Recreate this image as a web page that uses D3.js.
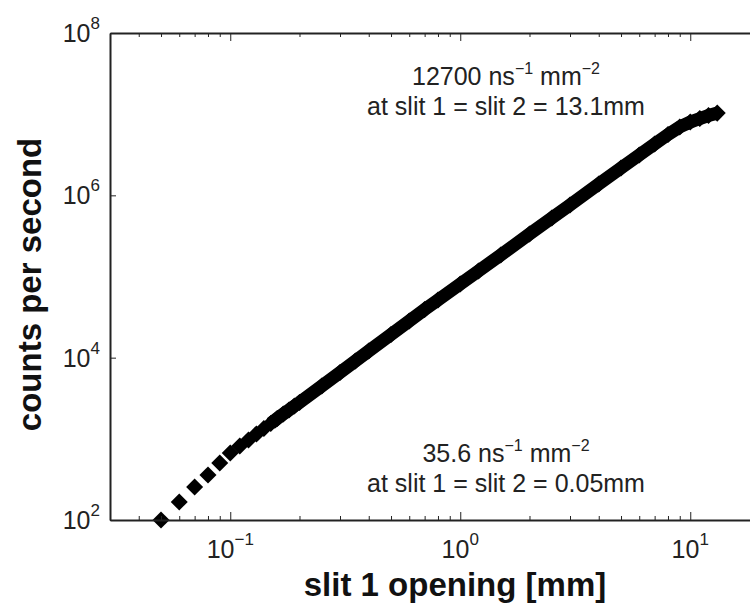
<!DOCTYPE html>
<html>
<head>
<meta charset="utf-8">
<title>counts per second vs slit 1 opening</title>
<script src="https://cdn.jsdelivr.net/npm/d3@7"></script>
<style>
  body { margin: 0; background: #fff; }
  svg { font-family: "Liberation Sans", Arial, Helvetica, sans-serif; }
</style>
</head>
<body>
<div id="chart"></div>
<script>
var slitOpening = [0.05, 0.06, 0.07, 0.08, 0.09, 0.10, 0.11, 0.12, 0.13, 0.14,
    0.15, 0.16, 0.17, 0.18, 0.19, 0.20, 0.25, 0.3, 0.35, 0.4, 0.5, 0.6, 0.7,
    0.8, 1.0, 1.2, 1.5, 2, 2.5, 3, 4, 5, 6, 7, 8, 9, 10, 11, 12, 13.1];
var countsPerSecond = [100, 167, 255, 358, 503, 668, 817, 968, 1150, 1340,
    1545, 1780, 2020, 2270, 2540, 2800, 4480, 6560, 9100, 12100, 19300, 28300, 39200,
    51300, 80800, 117000, 184000, 334000, 526000, 761000, 1380000, 2170000, 3140000, 4290000, 5610000, 6950000, 8000000, 8840000, 9620000, 10300000];

var xTicks = [0.1, 1, 10];
var xTickExp = ["\u22121", "0", "1"];
var yTicks = [1e2, 1e4, 1e6, 1e8];
var yTickExp = ["2", "4", "6", "8"];

var notes = [
    {x: 13.1, value: "12700", place: "top", slit: "13.1mm"},
    {x: 0.05, value: "35.6", place: "bottom", slit: "0.05mm"}
];

var width = 750, height = 608;
var margin = {top: 33, left: 110};
var plotW = 690, plotH = 487;

var svg = d3.select("#chart").append("svg")
    .attr("width", width)
    .attr("height", height);

var x = d3.scaleLog().domain([0.03, 30]).range([margin.left, margin.left + plotW]);
var y = d3.scaleLog().domain([1e2, 1e8]).range([margin.top + plotH, margin.top]);

// minor ticks 2..9 on each decade
var minor = [];
[0.01, 0.1, 1, 10].forEach(function(dec) {
    for (var k = 2; k <= 9; k++) {
        var v = dec * k;
        if (v >= 0.03 && v <= 30) minor.push(v);
    }
});

var bottom = margin.top + plotH;

// data first, axes on top
var g = svg.append("g");

var band = slitOpening.map(function(d, i) { return [d, countsPerSecond[i]]; })
    .filter(function(d) { return d[0] >= 0.15; });

g.append("path")
    .datum(band)
    .attr("fill", "none")
    .attr("stroke", "#000")
    .attr("stroke-width", 13)
    .attr("d", d3.line()
        .x(function(d) { return x(d[0]); })
        .y(function(d) { return y(d[1]); }));

g.selectAll("path.pt")
    .data(slitOpening)
    .enter().append("path")
    .attr("class", "pt")
    .attr("d", d3.symbol(d3.symbolSquare, 145))
    .attr("fill", "#000")
    .attr("transform", function(d, i) {
        return "translate(" + x(d) + "," + y(countsPerSecond[i]) + ") rotate(45)";
    });

// axes
function styleAxis(sel, w) {
    sel.select(".domain").attr("stroke", "#222").attr("stroke-width", w);
    sel.selectAll(".tick line").attr("stroke", "#222").attr("stroke-width", 1);
    sel.selectAll(".tick text").remove();
}

svg.append("g")
    .attr("transform", "translate(0," + bottom + ")")
    .call(d3.axisBottom(x).tickValues(minor).tickSize(-4).tickSizeOuter(0).tickFormat(""))
    .call(styleAxis, 0);
svg.append("g")
    .attr("transform", "translate(0," + bottom + ")")
    .call(d3.axisBottom(x).tickValues(xTicks).tickSize(-8).tickSizeOuter(0).tickFormat(""))
    .call(styleAxis, 2);
svg.append("g")
    .attr("transform", "translate(0," + margin.top + ")")
    .call(d3.axisTop(x).tickValues(minor).tickSize(-4).tickSizeOuter(0).tickFormat(""))
    .call(styleAxis, 0);
svg.append("g")
    .attr("transform", "translate(0," + margin.top + ")")
    .call(d3.axisTop(x).tickValues(xTicks).tickSize(-8).tickSizeOuter(0).tickFormat(""))
    .call(styleAxis, 2);
svg.append("g")
    .attr("transform", "translate(" + margin.left + ",0)")
    .call(d3.axisLeft(y).tickValues(yTicks).tickSize(-6).tickSizeOuter(0).tickFormat(""))
    .call(styleAxis, 2);

// tick labels with superscript exponents
var xl = svg.selectAll("text.xl")
    .data(xTicks)
    .enter().append("text")
    .attr("class", "xl")
    .attr("x", function(d) { return x(d); })
    .attr("y", bottom + 38)
    .attr("text-anchor", "middle")
    .attr("font-size", 25)
    .attr("fill", "#222");
xl.append("tspan").text("10");
xl.append("tspan").attr("dy", -13).attr("font-size", 17)
    .text(function(d, i) { return xTickExp[i]; });

var yl = svg.selectAll("text.yl")
    .data(yTicks)
    .enter().append("text")
    .attr("class", "yl")
    .attr("x", margin.left - 10)
    .attr("y", function(d) { return y(d) + 9; })
    .attr("text-anchor", "end")
    .attr("font-size", 25)
    .attr("fill", "#222");
yl.append("tspan").text("10");
yl.append("tspan").attr("dy", -13).attr("font-size", 17)
    .text(function(d, i) { return yTickExp[i]; });

// axis titles
svg.append("text")
    .attr("x", margin.left + plotW / 2)
    .attr("y", 596)
    .attr("text-anchor", "middle")
    .attr("font-size", 33)
    .attr("font-weight", "bold")
    .attr("fill", "#111")
    .text("slit 1 opening [mm]");

svg.append("text")
    .attr("transform", "translate(41," + (margin.top + plotH / 2 + 8) + ") rotate(-90)")
    .attr("text-anchor", "middle")
    .attr("font-size", 33)
    .attr("font-weight", "bold")
    .attr("fill", "#111")
    .text("counts per second");

// annotations
var noteY = {top: 85, bottom: 462};
notes.forEach(function(n) {
    var t1 = svg.append("text")
        .attr("x", 506)
        .attr("y", noteY[n.place])
        .attr("text-anchor", "middle")
        .attr("font-size", 25)
        .attr("fill", "#222");
    t1.append("tspan").text(n.value + " ns");
    t1.append("tspan").attr("dy", -11).attr("font-size", 16).text("\u22121");
    t1.append("tspan").attr("dy", 11).text(" mm");
    t1.append("tspan").attr("dy", -11).attr("font-size", 16).text("\u22122");

    svg.append("text")
        .attr("x", 506)
        .attr("y", noteY[n.place] + 30)
        .attr("text-anchor", "middle")
        .attr("font-size", 25)
        .attr("fill", "#222")
        .text("at slit 1 = slit 2 = " + n.slit);
});
</script>
</body>
</html>
